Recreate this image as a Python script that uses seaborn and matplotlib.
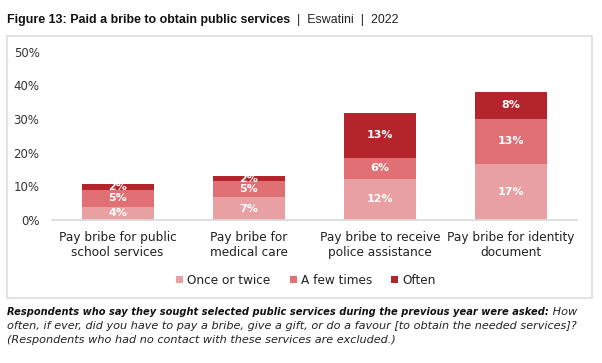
import matplotlib
matplotlib.use("Agg")
import matplotlib.pyplot as plt
from matplotlib.patches import Patch, Rectangle
import seaborn as sns
import pandas as pd

categories = [
    "Pay bribe for public\nschool services",
    "Pay bribe for\nmedical care",
    "Pay bribe to receive\npolice assistance",
    "Pay bribe for identity\ndocument",
]
once_or_twice = [4.0, 6.7, 12.2, 16.7]
a_few_times = [4.9, 4.8, 6.2, 13.4]
often = [1.8, 1.6, 13.4, 7.9]
series_names = ["Once or twice", "A few times", "Often"]
series_colors = ["#E9A0A2", "#E07073", "#B3242B"]
y_ticks = [0, 10, 20, 30, 40, 50]

sns.set_theme(style="white")
plt.rcParams["font.family"] = ["DejaVu Sans"]

df = pd.DataFrame({
    "category": categories,
    "Once or twice": once_or_twice,
    "A few times": a_few_times,
    "Often": often,
})
cum = df[series_names].cumsum(axis=1)

fig = plt.figure(figsize=(6.02, 3.63), dpi=100)
ax = fig.add_axes([0.0864, 0.394, 0.8716, 0.4636])

# draw tallest stack first so lower segments sit on top of it
for name, color in reversed(list(zip(series_names, series_colors))):
    sns.barplot(x=df["category"], y=cum[name], color=color, width=0.55,
                saturation=1, ax=ax, edgecolor="none")

# segment labels
for i in range(len(categories)):
    bottom = 0
    for name in series_names:
        val = df.loc[i, name]
        ax.text(i, bottom + val / 2, f"{round(val):.0f}%", ha="center", va="center",
                color="white", fontsize=8, fontweight="bold")
        bottom += val

ax.set_ylim(0, 50)
ax.set_xlim(-0.5, 3.5)
ax.set_yticks(y_ticks)
ax.set_yticklabels([f"{t}%" for t in y_ticks], fontsize=8.5, color="#333333")
ax.tick_params(axis="y", length=0, pad=9)
ax.tick_params(axis="x", length=0, pad=8, labelsize=8.7, labelcolor="#222222")
ax.set_xlabel("")
ax.set_ylabel("")
for side in ["top", "right", "left"]:
    ax.spines[side].set_visible(False)
ax.spines["bottom"].set_color("#D9D9D9")
ax.spines["bottom"].set_linewidth(1.2)

handles = [Patch(facecolor=c, edgecolor="none") for c in series_colors]
fig.legend(handles, series_names, loc="center", bbox_to_anchor=(0.508, 0.228),
           ncol=3, frameon=False, fontsize=8.7, handlelength=0.6, handleheight=0.6,
           handletextpad=0.3, columnspacing=1.6, labelcolor="#222222")

# chart frame
fig.patches.append(Rectangle((7 / 602, 1 - 298 / 363), 585 / 602, 262 / 363,
                             transform=fig.transFigure, fill=False,
                             edgecolor="#E3E3E3", linewidth=1.5))

# title: bold part then regular part chained after it
title = fig.text(7 / 602, 1 - 20 / 363, "Figure 13: Paid a bribe to obtain public services",
                 fontsize=8.9, fontweight="bold", family="Liberation Sans",
                 va="center", ha="left", color="#111111")
ax.annotate("  |  Eswatini  |  2022", xy=(1, 0.5), xycoords=title, va="center", ha="left",
            fontsize=8.9, family="Liberation Sans", color="#222222", annotation_clip=False)

# footnote
note1 = fig.text(7 / 602, 1 - 312 / 363,
                 "Respondents who say they sought selected public services during the previous year were asked:",
                 fontsize=7.15, fontweight="bold", style="italic",
                 va="center", ha="left", color="#111111")
ax.annotate(" How", xy=(1, 0.5), xycoords=note1, va="center", ha="left", fontsize=8.1,
            style="italic", color="#222222", annotation_clip=False)
fig.text(7 / 602, 1 - 326 / 363,
         "often, if ever, did you have to pay a bribe, give a gift, or do a favour [to obtain the needed services]?",
         fontsize=8.1, style="italic", va="center", ha="left", color="#222222")
fig.text(7 / 602, 1 - 340 / 363,
         "(Respondents who had no contact with these services are excluded.)",
         fontsize=8.1, style="italic", va="center", ha="left", color="#222222")

fig.savefig("out.png", dpi=100)
